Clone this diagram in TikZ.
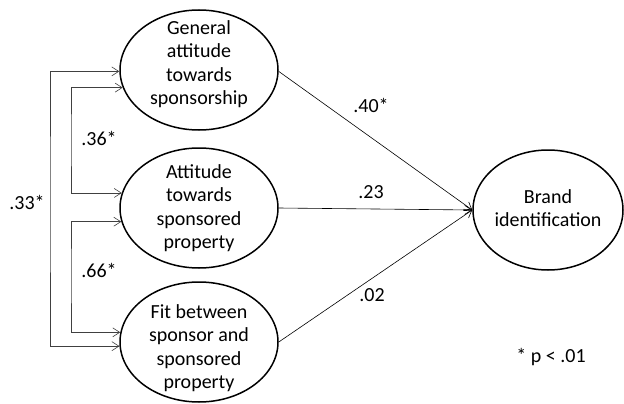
\documentclass[tikz,border=0pt]{standalone}
\usepackage{fontspec}
\setmainfont{Carlito}
\usetikzlibrary{shapes.geometric,arrows.meta}
\begin{document}
\begin{tikzpicture}[x=1pt,y=-1pt,
  lat/.style={ellipse,draw,line width=1.5pt,minimum width=158pt,minimum height=120pt,inner sep=0pt},
  txt/.style={align=center,inner sep=0pt,font=\fontsize{20}{23.5}\selectfont},
  lbl/.style={font=\fontsize{20}{24}\selectfont,inner sep=0pt},
  reg/.style={line width=0.6pt,-{Straight Barb[length=7pt,width=9pt]}},
  cov/.style={line width=0.6pt,draw=black!75,{Straight Barb[length=7pt,width=9pt]}-{Straight Barb[length=7pt,width=9pt]}}]
\useasboundingbox (0,0) rectangle (624,404);
\node[lat] (e1) at (199,70) {};
\node[lat] (e2) at (199,208) {};
\node[lat] (e3) at (199,342) {};
\node[lat,minimum width=150pt] (b) at (548,210) {};
\node[txt] (t1) at (199,64) {General\\attitude\\towards\\sponsorship};
\node[txt] (t2) at (199,208) {Attitude\\towards\\sponsored\\property};
\node[txt] (t3) at (199,348) {Fit between\\sponsor and\\sponsored\\property};
\node[txt] (tb) at (548,208) {Brand\\identification};

\coordinate (c1) at (50,200);
\coordinate (c2) at (71,140);
\coordinate (c3) at (71,275);
\draw[cov] (e1.181) -| (c1) |- (e3.183);
\draw[cov] (e1.193) -| (c2) |- (e2.169);
\draw[cov] (e2.190) -| (c3) |- (e3.173);

\draw[reg] (e1.-1) -- (b.west);
\draw[reg] (e2.east) -- (b.west);
\draw[reg] (e3.east) -- (b.west);

\node[lbl] (l40) at (371,105) {.40*};
\node[lbl] (l23) at (371,192) {.23};
\node[lbl] (l02) at (372,295) {.02};
\node[lbl] (l36) at (99,138) {.36*};
\node[lbl] (l66) at (99,270) {.66*};
\node[lbl] (l33) at (27,202) {.33*};
\node[lbl] (note) at (551,357) {* p < .01};
\end{tikzpicture}
\end{document}
